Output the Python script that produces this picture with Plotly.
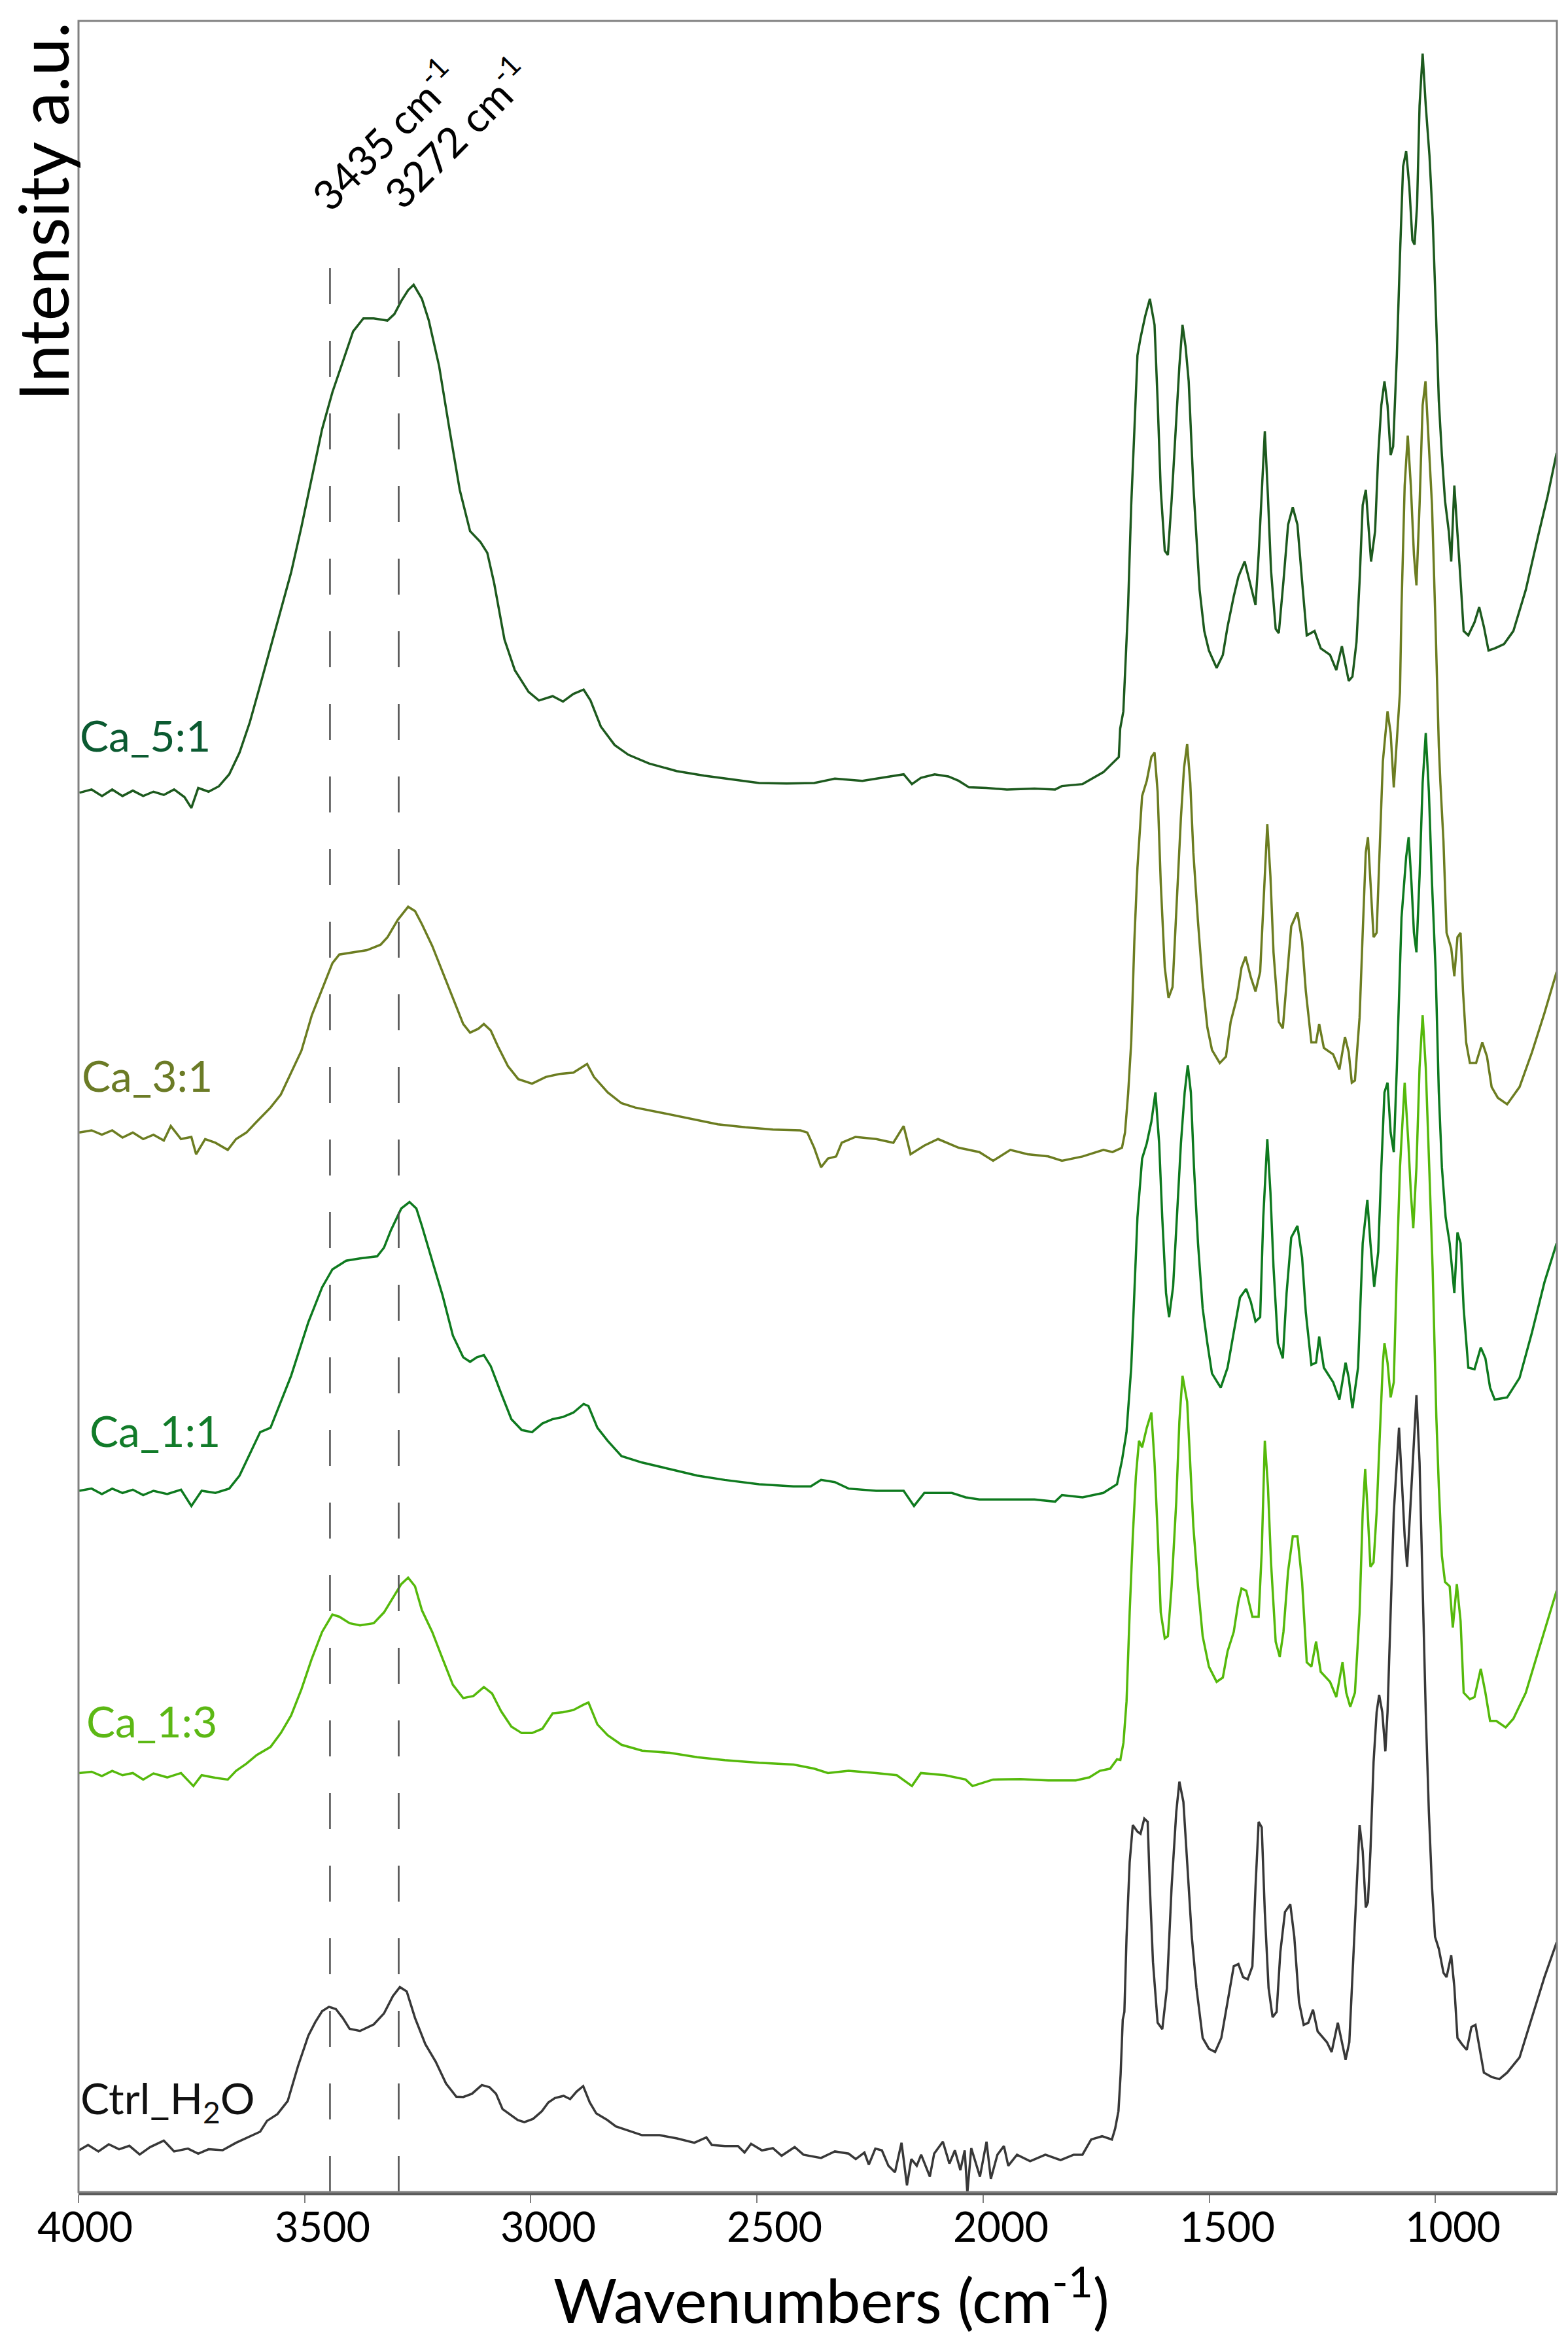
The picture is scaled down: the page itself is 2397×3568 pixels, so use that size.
import plotly.graph_objects as go

# wavenumber (cm-1) / intensity (a.u., offset stacked)
ca51_wn = [3998, 3971, 3948, 3925.5, 3902.7, 3879.9, 3857, 3834.2, 3811.4, 3788.6, 3765.7, 3750.5, 3735.3,
           3712.5, 3689.6, 3666.8, 3644, 3621.2, 3598.4, 3575.5, 3552.7, 3529.9, 3507.1, 3484.2, 3461.4,
           3438.6, 3415.8, 3392.9, 3370.1, 3347.3, 3317, 3301.6, 3286.4, 3271.2, 3259, 3240.8, 3225.5,
           3202.7, 3179.9, 3157.1, 3134.3, 3111.4, 3096.2, 3081, 3058.2, 3035.4, 3005, 2982.1, 2951.7,
           2928.8, 2906, 2883.2, 2868, 2845.2, 2814.7, 2784.3, 2738.7, 2677.8, 2616.9, 2556.1, 2495.2,
           2434.3, 2373.5, 2327.9, 2267, 2206.1, 2175.7, 2157.4, 2137.6, 2107.2, 2076.8, 2054, 2031.2,
           1993.2, 1947.5, 1886.6, 1840.9, 1825.7, 1780.1, 1734, 1700, 1697, 1690, 1679.4, 1672.6, 1665.7,
           1658.8, 1652, 1641.7, 1631.4, 1621, 1614.2, 1607.3, 1598.4, 1591.5, 1583.3, 1573, 1566.1,
           1559.2, 1552.4, 1545.5, 1535.2, 1521.4, 1511.1, 1500.8, 1483.7, 1470, 1459.6, 1445.9, 1435.6,
           1421.8, 1411.5, 1397.8, 1390.9, 1384, 1377.2, 1370.3, 1363.5, 1353.2, 1346.3, 1336, 1325.7,
           1315.4, 1305.1, 1294.8, 1284.5, 1267.3, 1253.6, 1233, 1219.2, 1206.8, 1198.6, 1191.7, 1183.5,
           1174.5, 1167.7, 1160.8, 1153.9, 1147.1, 1142.3, 1133.4, 1126.5, 1119.6, 1112.7, 1105.9, 1099,
           1093.5, 1085.3, 1078.4, 1071.5, 1064.7, 1057.8, 1050.9, 1046.1, 1040.6, 1035.1, 1028.3, 1021.4,
           1013.2, 1006.3, 999.4, 992.5, 985.7, 978.8, 970.5, 965.1, 958.2, 951.3, 944.4, 937.6, 927.3,
           913.6, 903.2, 892.9, 882.6, 868.9, 848.3, 827.7, 800.2, 772.7, 752.1, 732]
ca51_int = [64.45, 64.6, 64.3, 64.6, 64.3, 64.55, 64.3, 64.5, 64.35, 64.6, 64.25, 63.75, 64.67,
            64.5, 64.75, 65.3, 66.3, 67.7, 69.4, 71.16, 72.9, 74.6, 76.7, 78.9, 81.2,
            82.9, 84.3, 85.7, 86.3, 86.3, 86.2, 86.5, 87.1, 87.6, 87.85, 87.2, 86.2,
            84.1, 81.2, 78.4, 76.5, 76.0, 75.5, 74.1, 71.5, 70.1, 69.1, 68.7, 68.9,
            68.65, 69.0, 69.2, 68.7, 67.5, 66.65, 66.2, 65.8, 65.45, 65.24, 65.07, 64.9,
            64.88, 64.9, 65.1, 65.0, 65.2, 65.3, 64.85, 65.14, 65.3, 65.2, 65.0, 64.7,
            64.67, 64.6, 64.64, 64.6, 64.76, 64.85, 65.4, 66.1, 67.4, 68.2, 73.1, 77.7, 81.1,
            84.6, 85.4, 86.4, 87.2, 86.0, 82.5, 78.4, 75.6, 75.4, 77.9, 81.6, 84.1,
            86.0, 85.0, 83.4, 78.6, 73.8, 71.9, 71.0, 70.2, 70.8, 72.1, 73.5, 74.4,
            75.1, 74.2, 73.1, 75.4, 78.1, 81.1, 78.1, 74.7, 72.0, 71.8, 74.2, 76.8,
            77.6, 76.8, 74.2, 71.7, 71.9, 71.1, 70.8, 70.1, 71.2, 70.3, 69.6, 69.8,
            71.4, 74.2, 77.7, 78.4, 76.5, 75.1, 76.5, 80.0, 82.3, 83.4, 82.3, 80.0,
            80.4, 84.6, 89.2, 93.3, 94.0, 92.4, 89.9, 89.7, 91.5, 96.1, 98.5, 96.1,
            93.8, 91.0, 86.9, 82.5, 80.0, 77.9, 76.5, 75.1, 78.6, 76.5, 74.2, 71.9, 71.7,
            72.3, 73.0, 72.1, 71.0, 71.1, 71.3, 71.9, 73.8, 76.3, 78.1, 80.1]

ca31_wn = [3998.5, 3971, 3948.3, 3925.5, 3902.7, 3879.9, 3857, 3834.2, 3811.4, 3796, 3773.4, 3750.5, 3740,
           3720, 3697.3, 3670, 3651.6, 3628.8, 3606, 3575.5, 3552.7, 3529.9, 3507.1, 3484.2, 3461.4,
           3438.6, 3423.4, 3392.9, 3362.5, 3332.1, 3316.8, 3294, 3271.2, 3256, 3240.8, 3218, 3195.1,
           3172.3, 3149.5, 3134.3, 3116, 3103.8, 3088.6, 3073.4, 3050.6, 3027.7, 2997.3, 2966.9, 2936.4,
           2906, 2875.6, 2860.4, 2830, 2799.5, 2769.1, 2708.2, 2647.4, 2586.5, 2525.7, 2464.8, 2403.9,
           2388.7, 2373.5, 2358.3, 2343.1, 2325, 2312.6, 2282.2, 2236.5, 2198.5, 2175.7, 2160.4, 2130,
           2099.6, 2054, 2008.3, 1977.9, 1939.8, 1901.8, 1856.1, 1825.7, 1780.1, 1734, 1714, 1693,
           1686.3, 1679.4, 1672.6, 1665.7, 1658.8, 1648.5, 1638.2, 1628, 1621, 1614.2, 1607.3, 1598.4,
           1590.1, 1581.2, 1573, 1562.7, 1555.8, 1548.9, 1542, 1535.2, 1524.9, 1514.6, 1504.3, 1494,
           1476.8, 1463.1, 1452.7, 1439, 1428.7, 1419.8, 1408.1, 1397.8, 1387.5, 1380.6, 1371.7, 1364.8,
           1358, 1346.3, 1337.4, 1329.1, 1318.8, 1305.1, 1294.8, 1286.5, 1274.2, 1263.9, 1257, 1246.7,
           1226.1, 1212.3, 1200, 1191.7, 1184.9, 1178, 1167.7, 1160.8, 1154, 1149.2, 1143.7, 1136.8,
           1130, 1123.1, 1116.2, 1105.9, 1099, 1092.1, 1085.3, 1078.4, 1075, 1068, 1061.2, 1054.4,
           1047.5, 1042, 1035.1, 1028.3, 1022, 1015.2, 1007.6, 999.4, 992.5, 989, 982.2, 975.4, 965.1,
           958.2, 951.3, 944.4, 939, 932.1, 923.8, 910.1, 896.4, 886, 875.8, 862, 841.4, 814, 786.5,
           759, 732]
ca31_int = [48.8, 48.9, 48.7, 48.9, 48.57, 48.8, 48.5, 48.7, 48.43, 49.1, 48.5, 48.6, 47.8,
            48.5, 48.33, 48.0, 48.5, 48.8, 49.3, 49.95, 50.55, 51.56, 52.57, 54.2, 55.4,
            56.6, 57.0, 57.1, 57.2, 57.45, 57.8, 58.6, 59.2, 59.0, 58.4, 57.4, 56.2,
            55.0, 53.8, 53.4, 53.58, 53.8, 53.5, 52.8, 51.86, 51.26, 51.05, 51.36, 51.5,
            51.56, 51.96, 51.36, 50.65, 50.15, 49.95, 49.7, 49.44, 49.18, 49.04, 48.94, 48.9,
            48.8, 48.1, 47.2, 47.6, 47.7, 48.33, 48.6, 48.5, 48.33, 49.1, 47.8, 48.2,
            48.5, 48.1, 47.9, 47.5, 48.0, 47.8, 47.7, 47.5, 47.7, 48.0, 47.9, 48.1,
            48.8, 50.6, 52.95, 57.6, 61.0, 64.3, 65.0, 66.1, 66.3, 64.5, 60.3, 56.4,
            55.0, 55.5, 59.2, 63.3, 65.6, 66.7, 64.9, 61.7, 58.5, 55.7, 53.65, 52.6,
            52.0, 52.3, 53.9, 55.0, 56.4, 56.9, 55.95, 55.3, 56.2, 59.4, 63.0, 60.6,
            57.1, 53.9, 53.6, 55.7, 58.3, 58.95, 57.6, 55.3, 52.95, 52.95, 53.8, 52.7,
            52.4, 51.7, 53.2, 52.5, 51.1, 51.2, 54.1, 58.0, 61.7, 62.4, 60.3, 57.8,
            58.0, 62.2, 65.9, 68.2, 67.2, 64.7, 66.8, 69.1, 73.0, 78.6, 80.9, 78.6,
            75.4, 74.0, 77.7, 82.3, 83.4, 80.9, 77.7, 71.9, 66.6, 64.9, 62.2, 58.0, 57.3,
            56.0, 57.8, 58.0, 55.3, 52.95, 52.0, 52.0, 52.95, 52.3, 50.9, 50.4, 50.1, 50.9, 52.5,
            54.3, 56.2]

ca11_wn = [3998.5, 3971, 3948.3, 3925.5, 3902.7, 3879.9, 3857, 3834.2, 3803.8, 3773.4, 3750.5, 3727.7,
           3697.3, 3666.8, 3644, 3621.2, 3598.4, 3575.5, 3529.9, 3491.9, 3461.4, 3438.6, 3408.2, 3377.7,
           3339.7, 3324.5, 3309.3, 3286.4, 3268.2, 3253, 3240.8, 3218, 3195.1, 3172.3, 3149.5, 3134.3,
           3119.1, 3103.8, 3088.6, 3065.8, 3043, 3020.2, 2997.3, 2974.5, 2951.7, 2928.8, 2906, 2883.2,
           2872.5, 2852.8, 2830, 2799.5, 2754, 2693, 2632.1, 2571.3, 2495.2, 2419.1, 2381.1, 2358.3,
           2327.9, 2297.4, 2236.5, 2175.7, 2152.8, 2130, 2069.2, 2038.7, 2008.3, 1947.5, 1886.6, 1840.9,
           1825.7, 1780.1, 1734.4, 1704, 1693, 1683, 1672.6, 1665.7, 1658.8, 1648.5, 1638.2, 1628, 1619,
           1610.8, 1604, 1595.6, 1588.8, 1580, 1571, 1562.7, 1554.4, 1547.5, 1540.7, 1533.8, 1524.9,
           1514.6, 1504.3, 1494, 1474.7, 1459.6, 1445.9, 1432.1, 1418.4, 1408.1, 1397.8, 1387.5, 1380.6,
           1371.7, 1364.8, 1358, 1348.3, 1337.4, 1329.1, 1318.8, 1305.1, 1294.8, 1286.5, 1274.2, 1263.9,
           1257, 1246.7, 1226.1, 1212.3, 1198.6, 1191.7, 1183.5, 1171.1, 1160.8, 1150.5, 1143.7, 1135.4,
           1126.5, 1119.6, 1112.7, 1105.9, 1099, 1092.1, 1085.3, 1075, 1064.7, 1059.2, 1053, 1047.5,
           1042, 1035.1, 1028.3, 1021.4, 1014.5, 1007.6, 999.4, 992.5, 985.7, 977.4, 968.5, 958.2,
           951.3, 944.4, 937.6, 927.3, 913.6, 899.8, 889.5, 879.2, 868.9, 841.4, 814, 786.5, 759, 732]
ca11_int = [32.3, 32.4, 32.15, 32.4, 32.2, 32.35, 32.1, 32.3, 32.15, 32.35, 31.6, 32.3,
            32.2, 32.4, 33.0, 34.0, 35.0, 35.2, 37.6, 40.06, 41.67, 42.5, 42.9, 43.0,
            43.1, 43.5, 44.3, 45.3, 45.6, 45.3, 44.5, 42.9, 41.3, 39.45, 38.45, 38.24,
            38.45, 38.55, 38.04, 36.8, 35.6, 35.1, 35.0, 35.4, 35.6, 35.7, 35.9, 36.3,
            36.2, 35.2, 34.6, 33.9, 33.6, 33.3, 33.0, 32.8, 32.6, 32.5, 32.5, 32.8,
            32.7, 32.4, 32.3, 32.3, 31.6, 32.2, 32.2, 32.0, 31.9, 31.9, 31.9, 31.8,
            32.1, 32.0, 32.2, 32.6, 33.7, 35.0, 37.97, 41.4, 44.9, 47.6, 48.3, 49.3, 50.65,
            48.3, 44.9, 41.4, 40.3, 41.7, 44.9, 48.3, 50.65, 51.9, 50.65, 47.2, 43.7,
            40.7, 39.1, 37.7, 37.05, 37.97, 39.6, 41.2, 41.6, 41.0, 40.1, 40.3, 44.9,
            48.5, 46.05, 42.6, 39.1, 38.4, 41.4, 43.97, 44.5, 43.05, 40.5, 38.1, 38.2,
            39.4, 37.97, 37.3, 36.5, 38.2, 37.5, 36.1, 37.97, 43.7, 45.7, 43.7, 41.7,
            43.3, 47.2, 50.65, 51.1, 48.8, 47.9, 51.8, 58.7, 61.5, 62.4, 60.3, 58.0,
            57.1, 60.6, 64.9, 67.2, 64.5, 60.3, 56.2, 50.65, 47.2, 44.9, 43.7, 41.4,
            44.2, 43.7, 40.7, 37.97, 37.9, 38.9, 38.4, 37.05, 36.5, 36.6, 37.5, 39.6, 41.9, 43.7]

ca13_wn = [3998.5, 3971, 3948.3, 3925.5, 3902.7, 3879.9, 3857, 3834.2, 3803.8, 3773.4, 3746, 3727.7,
           3697.3, 3670, 3651.6, 3628.8, 3606, 3575.5, 3552.7, 3529.9, 3507.1, 3484.2, 3461.4, 3438.6,
           3423.4, 3400.6, 3377.7, 3347.3, 3324.5, 3304.7, 3286.4, 3271.2, 3256, 3240.8, 3218, 3195.1,
           3172.3, 3149.5, 3126.7, 3103.8, 3085.6, 3065.8, 3043, 3020.2, 2997.3, 2974.5, 2951.7, 2928.8,
           2906, 2883.2, 2872.5, 2852.8, 2830, 2799.5, 2754, 2693, 2632.1, 2571.3, 2495.2, 2419.1,
           2373.5, 2343.1, 2297.4, 2236.5, 2190.9, 2157.4, 2137.6, 2084.4, 2038.7, 2023.5, 1977.9, 1917,
           1856.1, 1795.3, 1765, 1742, 1719.2, 1704, 1696.6, 1689.7, 1682.9, 1676, 1669.1, 1662.3,
           1655.4, 1648.5, 1638.2, 1628, 1621, 1614.2, 1607.3, 1598.4, 1591.5, 1583.3, 1573, 1566.1,
           1559.2, 1548.9, 1542, 1535.2, 1524.9, 1514.6, 1500.8, 1483.7, 1470, 1459.6, 1445.9, 1435.6,
           1428.7, 1418.4, 1404.7, 1390.9, 1384, 1377.2, 1370.3, 1363.5, 1353.2, 1344.2, 1336, 1325.7,
           1315.4, 1305.1, 1294.8, 1284.5, 1274.2, 1263.9, 1253.6, 1233, 1219.2, 1205.4, 1197.2, 1188.3,
           1178, 1167.7, 1160.8, 1155.3, 1150.5, 1143.7, 1136.8, 1130, 1123.1, 1116.2, 1112.7, 1105.9,
           1099, 1092.1, 1085.3, 1078.4, 1068, 1059.9, 1054.4, 1049, 1042, 1035.1, 1028.3, 1021.4,
           1013.2, 1006.3, 998, 992.5, 985.7, 978.8, 968.5, 961.6, 952.7, 944.4, 937.6, 923.8, 913.6,
           899.8, 889.5, 879.2, 865.5, 844.8, 827.7, 800.2, 772.7, 752.1, 732]
ca13_int = [19.3, 19.36, 19.16, 19.4, 19.2, 19.3, 19.0, 19.28, 19.1, 19.3, 18.7, 19.2,
            19.08, 19.0, 19.4, 19.73, 20.13, 20.5, 21.14, 21.95, 23.16, 24.57, 25.8, 26.6,
            26.5, 26.2, 26.1, 26.2, 26.7, 27.4, 28.0, 28.3, 27.9, 26.8, 25.8, 24.57,
            23.36, 22.75, 22.85, 23.26, 22.96, 22.15, 21.44, 21.14, 21.14, 21.34, 22.05, 22.1,
            22.2, 22.45, 22.55, 21.54, 21.04, 20.6, 20.33, 20.23, 20.03, 19.89, 19.77, 19.69,
            19.5, 19.3, 19.4, 19.3, 19.2, 18.7, 19.3, 19.2, 19.0, 18.7, 19.0, 19.02,
            18.96, 18.96, 19.1, 19.4, 19.5, 19.93, 19.9, 20.7, 22.6, 26.7, 30.2, 32.95,
            34.6, 34.3, 35.2, 35.9, 33.6, 30.4, 26.7, 25.5, 25.6, 27.9, 31.8, 35.5,
            37.6, 36.4, 33.6, 30.65, 27.9, 25.6, 24.2, 23.5, 23.7, 24.9, 25.8, 27.2,
            27.8, 27.7, 26.5, 26.5, 29.5, 34.6, 32.5, 29.0, 25.35, 24.65, 25.8, 28.6,
            30.2, 30.2, 28.1, 24.4, 24.2, 25.35, 23.96, 23.5, 22.8, 24.4, 23.0, 22.35,
            23.0, 26.7, 31.3, 33.3, 31.6, 28.8, 29.0, 31.3, 34.8, 38.2, 39.1, 38.2,
            36.6, 37.3, 42.6, 47.2, 51.1, 48.35, 46.05, 44.4, 47.2, 51.8, 54.2, 51.8,
            46.9, 42.6, 35.7, 32.5, 29.3, 28.1, 27.9, 26.0, 28.0, 26.3, 23.0, 22.7, 22.8,
            24.1, 23.0, 21.7, 21.7, 21.4, 21.8, 23.0, 24.9, 26.3, 27.7]

ctrl_wn = [3998.5, 3978.8, 3956, 3933.1, 3910.3, 3887.5, 3864.7, 3841.8, 3811.4, 3788.6, 3758, 3735.3,
           3712.5, 3681.3, 3651.6, 3618.1, 3598.4, 3583.2, 3560.3, 3537.5, 3514.7, 3491.9, 3476.6, 3461.4,
           3446.2, 3431, 3415.8, 3400.6, 3377.7, 3347.3, 3324.5, 3304.7, 3289.5, 3274.3, 3256, 3233.2,
           3210.4, 3187.5, 3164.7, 3149.2, 3129.9, 3108.3, 3091.4, 3076.9, 3062.5, 3028.8, 3014.3, 2995,
           2975.7, 2961.2, 2946.8, 2927.5, 2913, 2898.6, 2884.2, 2869.7, 2855.3, 2831.1, 2811.9, 2782.9,
           2754, 2715.4, 2676.8, 2638.4, 2611.8, 2599.8, 2570.8, 2541.9, 2527.5, 2513, 2488.9, 2464.8,
           2445.5, 2416.6, 2397.3, 2358.3, 2327.9, 2297.4, 2281.6, 2262.4, 2252.7, 2238.3, 2223.8, 2209.4,
           2194.9, 2180.4, 2168.4, 2158.7, 2146.7, 2137, 2117.8, 2108.2, 2089, 2074.5, 2062.4, 2050.3,
           2040.7, 2034.9, 2026.2, 2007, 1992.5, 1982.9, 1968.4, 1954, 1944.4, 1925.1, 1896.1, 1862.4,
           1828.7, 1799.7, 1780.4, 1761.1, 1737, 1715.3, 1708.1, 1700.8, 1696, 1691.3, 1687.7,
           1682.9, 1676, 1669.1, 1658.8, 1652, 1643.7, 1636.2, 1631.4, 1624.5, 1614.2,
           1603.9, 1593.6, 1583.3, 1573, 1566.1, 1557.2, 1548.9, 1538.6, 1528.3, 1514.6, 1500.8, 1487.1,
           1473.4, 1459.6, 1445.9, 1435.6, 1425.3, 1415, 1404.7, 1397.8, 1390.9, 1384, 1377.2, 1368.9,
           1360, 1351.1, 1342.9, 1332.6, 1320.9, 1312, 1301.6, 1291.3, 1281, 1270.7, 1260.4, 1239.8,
           1229.5, 1215.8, 1206.8, 1198.6, 1190.4, 1181.4, 1172.5, 1167.7, 1160.8, 1154, 1149.2, 1143.7,
           1136.8, 1130, 1124.4, 1117.5, 1110.7, 1105.9, 1099, 1092.1, 1085.3, 1080.5, 1073.6, 1068,
           1062.6, 1055.7, 1048.9, 1042, 1035.1, 1028.3, 1021.4, 1014.5, 1007.6, 1000.8, 992.5, 982.2,
           975.4, 965.1, 958.2, 951.3, 941, 930.7, 920.4, 911.5, 903.2, 892.9, 875.8, 858.6, 841.4,
           814, 786.5, 759, 732]
ctrl_int = [1.93, 2.17, 1.87, 2.2, 1.97, 2.13, 1.73, 2.07, 2.37, 1.87, 2.0, 1.77,
            1.97, 1.93, 2.27, 2.58, 2.78, 3.28, 3.59, 4.19, 5.8, 7.2, 7.82, 8.33,
            8.53, 8.43, 8.02, 7.52, 7.42, 7.72, 8.23, 9.03, 9.44, 9.24, 8.02, 6.81,
            6.01, 5.0, 4.39, 4.38, 4.53, 4.93, 4.83, 4.53, 3.82, 3.32, 3.22, 3.37,
            3.72, 4.13, 4.33, 4.43, 4.28, 4.63, 4.88, 4.13, 3.62, 3.32, 3.02, 2.82,
            2.62, 2.62, 2.47, 2.27, 2.52, 2.17, 2.12, 2.12, 1.82, 2.22, 1.92, 2.02,
            1.67, 2.07, 1.72, 1.57, 1.87, 1.77, 1.52, 1.82, 1.26, 2.0, 1.92, 1.21,
            0.91, 2.27, 0.31, 1.52, 1.21, 1.72, 0.71, 1.77, 2.32, 1.31, 1.92, 1.01,
            1.92, -0.04, 2.02, 0.71, 2.32, 0.61, 1.72, 2.12, 1.21, 1.72, 1.42, 1.72,
            1.47, 1.72, 1.72, 2.42, 2.57, 2.42, 2.92, 3.73, 5.43, 7.94, 8.3,
            11.75, 15.2, 16.9, 16.6, 16.5, 17.2, 17.05, 14.05, 10.6, 7.8,
            7.5, 9.4, 14.05, 17.5, 18.9, 17.97, 15.2, 11.75, 9.4, 7.1, 6.6, 6.45,
            7.1, 8.75, 10.4, 10.5, 9.9, 9.8, 10.4, 14.05, 17.05, 16.8, 12.9, 9.4,
            8.05, 8.3, 11.05, 12.9, 13.25, 11.75, 8.75, 7.7, 7.8, 8.4, 7.4, 6.9,
            6.45, 7.8, 6.9, 6.1, 6.9, 11.05, 15.2, 16.9, 15.7, 13.1, 13.35, 15.7,
            19.8, 22.1, 22.9, 22.1, 20.3, 22.1, 26.7, 31.3, 33.6, 35.2, 32.5, 30.2,
            28.8, 31.3, 34.1, 36.7, 33.6, 27.9, 22.1, 17.5, 14.05, 11.75, 11.2, 10.1,
            9.9, 10.9, 9.45, 7.1, 6.8, 6.55, 7.6, 7.7, 6.7, 5.5, 5.3, 5.2, 5.5,
            6.2, 8.05, 9.9, 11.5]

series_names = ['Ctrl_H<sub>2</sub>O', 'Ca_1:3', 'Ca_1:1', 'Ca_3:1', 'Ca_5:1']
series_wn = [ctrl_wn, ca13_wn, ca11_wn, ca31_wn, ca51_wn]
series_int = [ctrl_int, ca13_int, ca11_int, ca31_int, ca51_int]
line_colors = ['#383838', '#55b90b', '#0e7a1f', '#6c7d21', '#1d5a1e']
label_colors = ['#111111', '#5cb814', '#117b29', '#6b7b26', '#0b5a31']
# where each name label sits (left edge wavenumber, intensity)
label_wn = [3999, 3986, 3979, 3995, 4000]
label_int = [4.2, 21.72, 35.1, 51.46, 67.1]

# marked O-H / N-H bands
band_pos = [3444, 3292]
band_text = ['3435 cm<sup>-1</sup>', '3272 cm<sup>-1</sup>']
band_label_wn = [3326, 3167]
band_label_int = [94.8, 94.9]

x_ticks = [4000, 3500, 3000, 2500, 2000, 1500, 1000]

FONT = 'Lato'

fig = go.Figure()
for name, wn, inten, col in zip(series_names, series_wn, series_int, line_colors):
    fig.add_trace(go.Scatter(x=wn, y=inten, mode='lines', name=name,
                             line=dict(color=col, width=3.5), showlegend=False))

for name, wn, inten, col in zip(series_names, label_wn, label_int, label_colors):
    fig.add_annotation(x=wn, y=inten, text=name, showarrow=False, xanchor='left', yanchor='middle',
                       font=dict(family=FONT, size=66, color=col))

for pos in band_pos:
    fig.add_shape(type='line', x0=pos, x1=pos, y0=0, y1=90, xref='x', yref='y',
                  line=dict(color='#4d4d4d', width=2.5, dash='55px,56px'))

for txt, wn, inten in zip(band_text, band_label_wn, band_label_int):
    fig.add_annotation(x=wn, y=inten, text=txt, showarrow=False, textangle=-45,
                       xanchor='center', yanchor='middle',
                       font=dict(family=FONT, size=63, color='black'))

# tick labels sit a little right of their ticks in the original
for i, t in enumerate(x_ticks):
    fig.add_annotation(x=t, xref='x', yref='paper', y=-0.0154, text=str(t), showarrow=False,
                       xanchor='center', yanchor='middle', xshift=10 if i == 0 else 27,
                       font=dict(family=FONT, size=63, color='black'))

# frame round the plot area
fig.add_shape(type='rect', xref='paper', yref='paper', x0=0, x1=1, y0=0, y1=1,
              line=dict(color='#808080', width=3), layer='above')

fig.add_annotation(xref='paper', yref='paper', x=-0.0245, y=1.0, text='Intensity a.u.',
                   textangle=-90, showarrow=False, xanchor='center', yanchor='top',
                   font=dict(family=FONT, size=104, color='black'))
fig.add_annotation(xref='paper', yref='paper', x=0.5095, y=-0.0475, text='Wavenumbers (cm<sup>-1</sup>)',
                   showarrow=False, xanchor='center', yanchor='middle',
                   font=dict(family=FONT, size=94, color='black'))

fig.update_layout(
    width=2397, height=3568,
    margin=dict(l=112, r=25, t=24, b=225),
    paper_bgcolor='white', plot_bgcolor='white',
    xaxis=dict(range=[4000, 731.5], tickvals=x_ticks, showticklabels=False,
               ticks='outside', ticklen=12, tickwidth=2, tickcolor='#808080',
               showline=True, linecolor='#595959', linewidth=5, showgrid=False, zeroline=False),
    yaxis=dict(range=[0, 100], showticklabels=False, showgrid=False, zeroline=False, ticks=''),
)

fig.write_html('out.html')
